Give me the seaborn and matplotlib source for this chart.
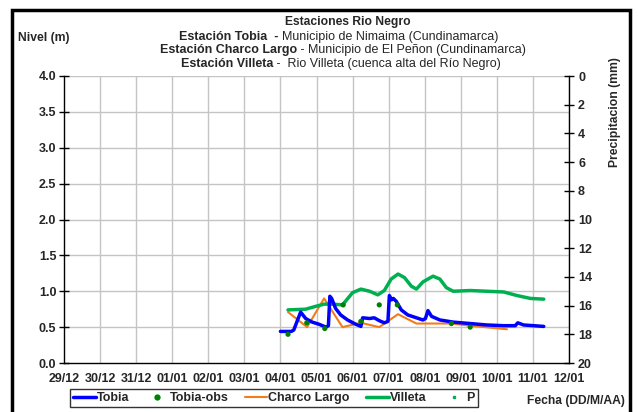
import matplotlib
matplotlib.use("Agg")
import matplotlib.pyplot as plt
import seaborn as sns
import numpy as np
from matplotlib.patches import Rectangle
from matplotlib.lines import Line2D

# ---- data (x = days since 29/12) ----
tick_labels = ["29/12", "30/12", "31/12", "01/01", "02/01", "03/01", "04/01", "05/01",
               "06/01", "07/01", "08/01", "09/01", "10/01", "11/01", "12/01"]

tobia_x = [6.0, 6.3, 6.37, 6.56, 6.70, 6.88, 7.07, 7.26, 7.33, 7.37, 7.42, 7.53, 7.67, 7.86,
           8.09, 8.23, 8.28, 8.47, 8.60, 8.74, 8.88, 8.98, 9.02, 9.08, 9.13, 9.21, 9.35, 9.53,
           9.77, 9.95, 10.02, 10.09, 10.19, 10.42, 10.79, 11.26, 11.72, 12.19, 12.51, 12.58,
           12.74, 13.02, 13.30]
tobia_y = [0.44, 0.44, 0.46, 0.71, 0.62, 0.57, 0.54, 0.50, 0.52, 0.93, 0.90, 0.76, 0.67, 0.60,
           0.54, 0.51, 0.63, 0.62, 0.63, 0.59, 0.56, 0.58, 0.94, 0.88, 0.90, 0.86, 0.74, 0.67,
           0.63, 0.60, 0.62, 0.73, 0.65, 0.60, 0.57, 0.55, 0.53, 0.52, 0.52, 0.56,
           0.53, 0.52, 0.51]

obs_x = [6.21, 6.73, 7.23, 7.74, 8.23, 8.74, 9.24, 10.74, 11.26]
obs_y = [0.40, 0.56, 0.48, 0.81, 0.58, 0.81, 0.81, 0.55, 0.50]

charco_x = [6.21, 6.74, 7.21, 7.72, 8.23, 8.74, 9.26, 9.77, 10.74, 11.26, 12.28]
charco_y = [0.71, 0.50, 0.90, 0.50, 0.56, 0.50, 0.68, 0.55, 0.55, 0.52, 0.47]

villeta_x = [6.21, 6.70, 6.98, 7.21, 7.44, 7.72, 8.0, 8.23, 8.47, 8.70, 8.88, 9.07, 9.26, 9.44,
             9.63, 9.77, 9.95, 10.23, 10.42, 10.60, 10.79, 11.26, 11.72, 12.19, 12.56, 12.93, 13.30]
villeta_y = [0.74, 0.75, 0.79, 0.82, 0.82, 0.81, 0.98, 1.03, 1.00, 0.95, 1.01, 1.17, 1.24, 1.19,
             1.07, 1.03, 1.13, 1.21, 1.17, 1.05, 1.00, 1.01, 1.00, 0.99, 0.94, 0.90, 0.89]

p_x = []
p_y = []

# ---- figure ----
sns.set_theme(style="white")
plt.rcParams['font.family'] = ['Liberation Sans', 'DejaVu Sans']

W, H = 638, 412
fig = plt.figure(figsize=(W / 100, H / 100), dpi=100)
ax = fig.add_axes([64 / W, 1 - 363 / H, (569 - 64) / W, (363 - 76) / H])

grid_c = "#C4C4C4"
for d in range(1, 15):
    ax.axvline(d, color=grid_c, lw=1, zorder=0)
for v in np.arange(0.5, 4.01, 0.5):
    ax.axhline(v, color=grid_c, lw=1, zorder=0)

blue = "#0000FF"
orange = "#F07D1A"
green = "#00B050"
dgreen = "#008000"

sns.lineplot(x=charco_x, y=charco_y, ax=ax, color=orange, lw=1.5, zorder=3)
sns.lineplot(x=villeta_x, y=villeta_y, ax=ax, color=green, lw=2.5, zorder=3)
sns.lineplot(x=tobia_x, y=tobia_y, ax=ax, color=blue, lw=2.5, zorder=4)
sns.scatterplot(x=obs_x, y=obs_y, ax=ax, color=dgreen, s=14, edgecolor="none", zorder=5)

ax.set_xlim(0, 14)
ax.set_ylim(0, 4)
ax.set_xticks(range(15))
ax.set_xticklabels(tick_labels)
ax.set_yticks(np.arange(0, 4.01, 0.5))
ax.set_yticklabels([f"{v:.1f}" for v in np.arange(0, 4.01, 0.5)])

for sp in ["top", "right"]:
    ax.spines[sp].set_visible(False)
for sp in ["left", "bottom"]:
    ax.spines[sp].set_color("black")
    ax.spines[sp].set_linewidth(1)

ax.tick_params(axis="both", direction="inout", length=7, width=1, color="black",
               labelsize=9, pad=2)
ax.tick_params(axis="x", pad=4)
for lab in ax.get_xticklabels() + ax.get_yticklabels():
    lab.set_fontweight("bold")

ax2 = ax.twinx()
ax2.set_ylim(20, 0)
ax2.set_yticks(range(0, 21, 2))
ax2.tick_params(axis="y", direction="inout", length=7, width=1, color="black",
                labelsize=9, pad=3)
for lab in ax2.get_yticklabels():
    lab.set_fontweight("bold")
for sp in ["top", "left", "bottom"]:
    ax2.spines[sp].set_visible(False)
ax2.spines["right"].set_color("black")
ax2.spines["right"].set_linewidth(1)
if p_x:
    sns.scatterplot(x=p_x, y=p_y, ax=ax2, color=green, s=6)

# ---- texts ----
fs = 9
fig.text(348 / W, 1 - 22 / H, "Estaciones Rio Negro", ha="center", va="center",
         fontsize=8.7, fontweight="bold")

renderer = fig.canvas.get_renderer()


def mixed(y_px, bold, regular, cx_px=343):
    t1 = fig.text(0, 1 - y_px / H, bold, fontsize=fs, fontweight="bold", va="center")
    t2 = fig.text(0, 1 - y_px / H, regular, fontsize=fs, va="center")
    w1 = t1.get_window_extent(renderer).width
    w2 = t2.get_window_extent(renderer).width
    x0 = cx_px - (w1 + w2) / 2
    t1.set_x(x0 / W)
    t2.set_x((x0 + w1) / W)


mixed(37, "Estación Tobia  - ", "Municipio de Nimaima (Cundinamarca)", 339)
mixed(50, "Estación Charco Largo", " - Municipio de El Peñon (Cundinamarca)", 343)
mixed(64, "Estación Villeta", " -  Rio Villeta (cuenca alta del Río Negro)", 341)

fig.text(18 / W, 1 - 38 / H, "Nivel (m)", ha="left", va="center", fontsize=8.7,
         fontweight="bold")
fig.text(615 / W, 1 - 112 / H, "Precipitacion (mm)", ha="center", va="center",
         fontsize=8.7, fontweight="bold", rotation=90)
fig.text(625 / W, 1 - 401 / H, "Fecha (DD/M/AA)", ha="right", va="center",
         fontsize=8.7, fontweight="bold")

# ---- legend ----
handles = [
    Line2D([], [], color=blue, lw=2.5),
    Line2D([], [], color=dgreen, marker="o", ls="none", markersize=3.5),
    Line2D([], [], color=orange, lw=1.5),
    Line2D([], [], color=green, lw=2.5),
    Line2D([], [], color=green, marker="s", ls="none", markersize=2),
]
labels = ["Tobia", "Tobia-obs", "Charco Largo", "Villeta", "P"]
leg = fig.legend(handles, labels, loc="center", bbox_to_anchor=(274 / W, 1 - 398 / H),
                 ncol=5, frameon=True, fancybox=False, edgecolor="black",
                 handlelength=1.8, handletextpad=0.1, columnspacing=1.3,
                 borderpad=0.25, prop={"size": 9, "weight": "bold"})
leg.get_frame().set_linewidth(1)

# ---- outer border ----
fig.patches.append(Rectangle((12 / W, -0.05), (630 - 12) / W, 1.05 - 10 / H,
                             transform=fig.transFigure, fill=False, edgecolor="black",
                             lw=2.5, zorder=10))

fig.savefig("out.png", dpi=100)
